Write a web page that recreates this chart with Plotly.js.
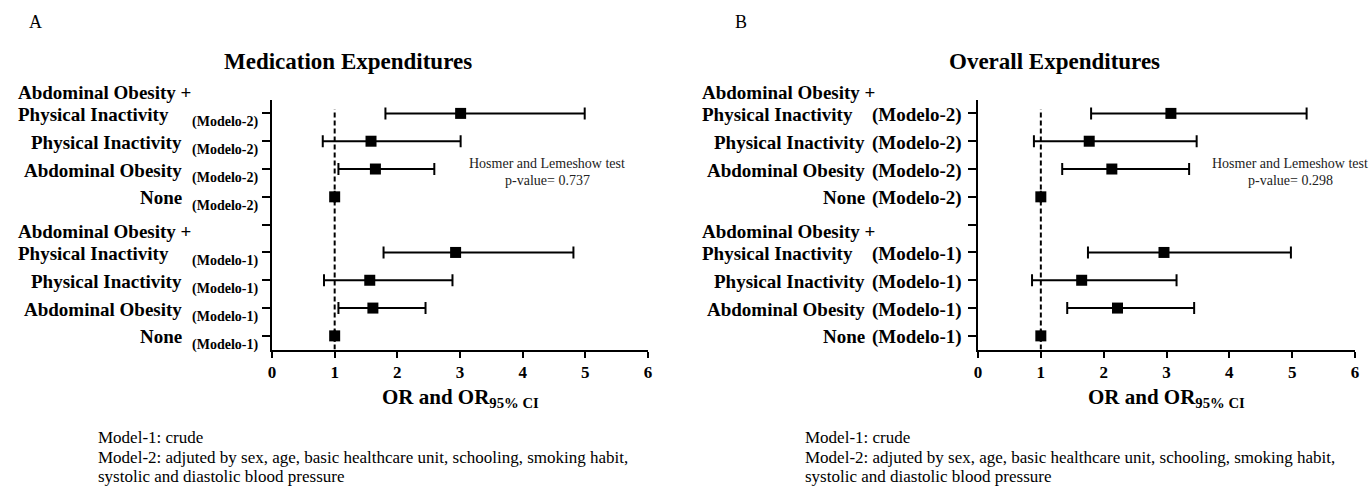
<!DOCTYPE html>
<html><head><meta charset="utf-8">
<script src="https://cdn.plot.ly/plotly-3.0.1.min.js"></script>
<style>html,body{margin:0;padding:0;background:#fff}#chart{width:1369px;height:486px}</style>
</head><body><div id="chart"></div>
<script>
// ---- data ----
const categories = ['None', 'Abdominal Obesity', 'Physical Inactivity', 'Abdominal Obesity +<br>Physical Inactivity'];
const modelLabels = ['(Modelo-1)', '(Modelo-2)'];
const xTickVals = [0, 1, 2, 3, 4, 5, 6];
const rowTickVals = [0, 1, 2, 3, 4, 5, 6, 7, 8];

// Medication expenditures
const medOR_m1 = [1.00, 1.61, 1.56, 2.93];
const medLo_m1 = [1.00, 1.06, 0.83, 1.78];
const medHi_m1 = [1.00, 2.45, 2.88, 4.81];
const medOR_m2 = [1.00, 1.65, 1.58, 3.01];
const medLo_m2 = [1.00, 1.06, 0.81, 1.81];
const medHi_m2 = [1.00, 2.59, 3.01, 4.99];

// Overall expenditures
const allOR_m1 = [1.00, 2.22, 1.65, 2.96];
const allLo_m1 = [1.00, 1.42, 0.86, 1.75];
const allHi_m1 = [1.00, 3.44, 3.16, 4.98];
const allOR_m2 = [1.00, 2.13, 1.77, 3.07];
const allLo_m2 = [1.00, 1.34, 0.89, 1.80];
const allHi_m2 = [1.00, 3.36, 3.48, 5.23];

const panelTitles = ['Medication Expenditures', 'Overall Expenditures'];
const panelLetters = ['A', 'B'];
const hlLines = [['Hosmer and Lemeshow test', 'p-value= 0.737'], ['Hosmer and Lemeshow test', 'p-value= 0.298']];
const xTitle = 'OR and OR<sub>95% CI</sub>';
const footnoteLines = ['Model-1: crude',
  'Model-2: adjuted by sex, age, basic healthcare unit, schooling, smoking habit,',
  'systolic and diastolic blood pressure'];

// ---- layout helpers ----
const W = 1369, H = 486;
const FONT = '"Liberation Serif", "Times New Roman", Times, serif';
const px = v => v / W;
const py = v => 1 - v / H;
const rowOf = (m, c) => m * 5 + c;

function trace(or, lo, hi, m, xa, ya) {
  return {
    type: 'scatter', mode: 'markers', xaxis: xa, yaxis: ya,
    x: or, y: or.map((_, c) => rowOf(m, c)),
    marker: {symbol: 'square', size: 11, color: '#000'},
    error_x: {type: 'data', symmetric: false,
      array: hi.map((h, i) => h - or[i]), arrayminus: lo.map((l, i) => or[i] - l),
      color: '#000', thickness: 2, width: 6},
    showlegend: false, hoverinfo: 'x+y', cliponaxis: false
  };
}

const data = [
  trace(medOR_m1, medLo_m1, medHi_m1, 0, 'x', 'y'),
  trace(medOR_m2, medLo_m2, medHi_m2, 1, 'x', 'y'),
  trace(allOR_m1, allLo_m1, allHi_m1, 0, 'x2', 'y2'),
  trace(allOR_m2, allLo_m2, allHi_m2, 1, 'x2', 'y2')
];

const yDom = [py(349.5), py(99.5)];
function xAxis(dom, anchor) {
  return {domain: dom, anchor: anchor, range: [0, 6], tickvals: xTickVals,
    showline: true, linecolor: '#000', linewidth: 2, ticks: 'outside', ticklen: 6, tickwidth: 2, tickcolor: '#000',
    showgrid: false, zeroline: false, fixedrange: true,
    tickfont: {family: FONT, size: 17, color: '#000', weight: 'bold'}};
}
function yAxis(anchor) {
  return {domain: yDom, anchor: anchor, range: [-0.49, 8.5], tickvals: rowTickVals,
    showline: true, linecolor: '#000', linewidth: 2, ticks: 'outside', ticklen: 8, tickwidth: 2, tickcolor: '#000',
    showticklabels: false, showgrid: false, zeroline: false, fixedrange: true};
}

const annotations = [];
const shapes = [];
const panels = [
  {xa: 'x', ya: 'y', left: 272, right: 648, titleX: 348, letterX: 35, hlX: 547,
   catRight: 184, modelRight: 260, modelSize: 14, modelShift: -9, twoLeft: 16, footX: 97},
  {xa: 'x2', ya: 'y2', left: 978, right: 1355, titleX: 1054, letterX: 741, hlX: 1290,
   catRight: 867, modelRight: 964, modelSize: 19, modelShift: -1.5, twoLeft: 700, footX: 804}
];
const footY = [437, 457, 476];
const hlY = [163, 180];
const LINE = 22;

panels.forEach((p, k) => {
  annotations.push({xref: 'paper', yref: 'paper', x: px(p.letterX), y: py(22), text: panelLetters[k],
    showarrow: false, xanchor: 'center', yanchor: 'middle', font: {family: FONT, size: 18, color: '#000'}});
  annotations.push({xref: 'paper', yref: 'paper', x: px(p.titleX), y: py(62), text: '<b>' + panelTitles[k] + '</b>',
    showarrow: false, xanchor: 'center', yanchor: 'middle', font: {family: FONT, size: 23, color: '#000'}});
  hlLines[k].forEach((t, i) => annotations.push({xref: 'paper', yref: 'paper', x: px(p.hlX), y: py(hlY[i]), text: t,
    showarrow: false, xanchor: 'center', yanchor: 'middle', font: {family: FONT, size: 14, color: '#222'}}));
  annotations.push({xref: 'paper', yref: 'paper', x: px((p.left + p.right) / 2), y: py(398), text: '<b>' + xTitle + '</b>',
    showarrow: false, xanchor: 'center', yanchor: 'middle', font: {family: FONT, size: 21, color: '#000'}});
  footnoteLines.forEach((t, i) => annotations.push({xref: 'paper', yref: 'paper', x: px(p.footX), y: py(footY[i]), text: t,
    showarrow: false, xanchor: 'left', yanchor: 'middle', borderpad: 0, font: {family: FONT, size: 17, color: '#000'}}));
  modelLabels.forEach((ml, m) => {
    categories.forEach((cat, c) => {
      const r = rowOf(m, c);
      const parts = cat.split('<br>');
      parts.forEach((line, li) => {
        const up = (parts.length - 1 - li) * LINE;
        annotations.push(parts.length > 1 ? {
          xref: 'paper', yref: p.ya, x: px(p.twoLeft), y: r, text: '<b>' + line + '</b>', showarrow: false,
          xanchor: 'left', yanchor: 'middle', yshift: up - 1.5, font: {family: FONT, size: 19, color: '#000'}
        } : {
          xref: 'paper', yref: p.ya, x: px(p.catRight), y: r, text: '<b>' + line + '</b>', showarrow: false,
          xanchor: 'right', yanchor: 'middle', yshift: -1, font: {family: FONT, size: 19, color: '#000'}
        });
      });
      annotations.push({xref: 'paper', yref: p.ya, x: px(p.modelRight), y: r, text: '<b>' + ml + '</b>', showarrow: false,
        xanchor: 'right', yanchor: 'middle', yshift: p.modelShift,
        font: {family: FONT, size: p.modelSize, color: '#000'}});
    });
  });
  shapes.push({type: 'line', xref: p.xa, yref: p.ya, x0: 1, x1: 1, y0: -0.49, y1: 8.15,
    line: {color: '#000', width: 2, dash: '5px,3px'}, layer: 'below'});
});

const layout = {
  width: W, height: H, margin: {l: 0, r: 0, t: 0, b: 0},
  paper_bgcolor: '#fff', plot_bgcolor: '#fff',
  xaxis: xAxis([px(272), px(648)], 'y'),
  yaxis: yAxis('x'),
  xaxis2: xAxis([px(978), px(1355)], 'y2'),
  yaxis2: yAxis('x2'),
  annotations: annotations, shapes: shapes, showlegend: false
};

Plotly.newPlot('chart', data, layout, {displayModeBar: false, staticPlot: true});
</script></body></html>
